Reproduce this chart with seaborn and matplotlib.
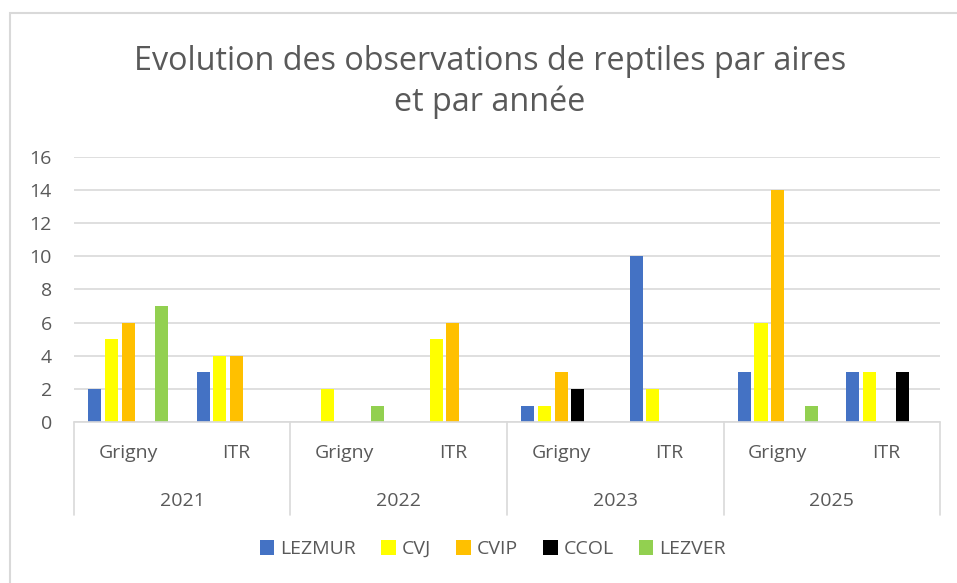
import numpy as np
import pandas as pd
import seaborn as sns
import matplotlib.pyplot as plt

# data
years = ["2021", "2021", "2022", "2022", "2023", "2023", "2025", "2025"]
sites = ["Grigny", "ITR", "Grigny", "ITR", "Grigny", "ITR", "Grigny", "ITR"]
species = ["LEZMUR", "CVJ", "CVIP", "CCOL", "LEZVER"]
lezmur = [2, 3, 0, 0, 1, 10, 3, 3]
cvj = [5, 4, 2, 5, 1, 2, 6, 3]
cvip = [6, 4, 0, 6, 3, 0, 14, 0]
ccol = [0, 0, 0, 0, 2, 0, 0, 3]
lezver = [7, 0, 1, 0, 0, 0, 1, 0]
colors = ["#4472C4", "#FFFF00", "#FFC000", "#000000", "#92D050"]

GREY = "#595959"
GRID = "#D9D9D9"

sns.set_theme(style="white")
plt.rcParams["font.family"] = ["Open Sans", "DejaVu Sans"]

rows = []
for i, (y, s) in enumerate(zip(years, sites)):
    for sp, vals in zip(species, [lezmur, cvj, cvip, ccol, lezver]):
        rows.append({"cat": f"{y}-{s}", "species": sp, "n": vals[i]})
df = pd.DataFrame(rows)
cats = [f"{y}-{s}" for y, s in zip(years, sites)]

fig = plt.figure(figsize=(9.57, 5.83), dpi=100)
ax = fig.add_axes([0.0773, 0.276, 0.905, 0.455])

sns.barplot(data=df, x="cat", y="n", hue="species", order=cats, hue_order=species,
            palette=colors, saturation=1, width=0.77, gap=0.22, ax=ax, linewidth=0,
            legend=True)

ax.set_ylim(0, 16)
ax.set_xlim(-0.5, len(cats) - 0.5)
ax.set_yticks(range(0, 17, 2))
ax.yaxis.grid(True, color=GRID, linewidth=1.2)
ax.set_axisbelow(True)
for sp in ax.spines.values():
    sp.set_visible(False)
ax.tick_params(axis="y", length=0, labelsize=14, labelcolor=GREY, pad=16)
ax.set_xticks([])
ax.set_xlabel("")
ax.set_ylabel("")

# two-level category axis
tr = ax.get_xaxis_transform()
ax.plot([-0.5, len(cats) - 0.5], [0, 0], color=GRID, lw=1.2, transform=tr, clip_on=False)
for xb in [-0.5, 1.5, 3.5, 5.5, 7.5]:
    ax.plot([xb, xb], [0, -0.35], color=GRID, lw=1.2, transform=tr, clip_on=False)
for i, s in enumerate(sites):
    ax.text(i, -0.118, s, transform=tr, ha="center", va="center", fontsize=14, color=GREY)
for j in range(0, len(years), 2):
    ax.text(j + 0.5, -0.298, years[j], transform=tr, ha="center", va="center", fontsize=14, color=GREY)

fig.text(0.512, 0.86, "Evolution des observations de reptiles par aires\net par année",
         ha="center", va="center", fontsize=23.3, color=GREY, linespacing=1.3)

handles, labels = ax.get_legend_handles_labels()
ax.legend_.remove()
fig.legend(handles, labels, loc="center", bbox_to_anchor=(0.515, 0.058), ncol=5, frameon=False,
           fontsize=14, labelcolor=GREY, handlelength=0.75, handleheight=0.75, handletextpad=0.3,
           columnspacing=1.3)

# chart border (left/top visible)
fig.patches.append(plt.Rectangle((10 / 957, -0.1), 1.2, 1 - 13 / 583 + 0.1, transform=fig.transFigure,
                                 fill=False, edgecolor=GRID, lw=1.5))

fig.savefig("out.png", dpi=100)
